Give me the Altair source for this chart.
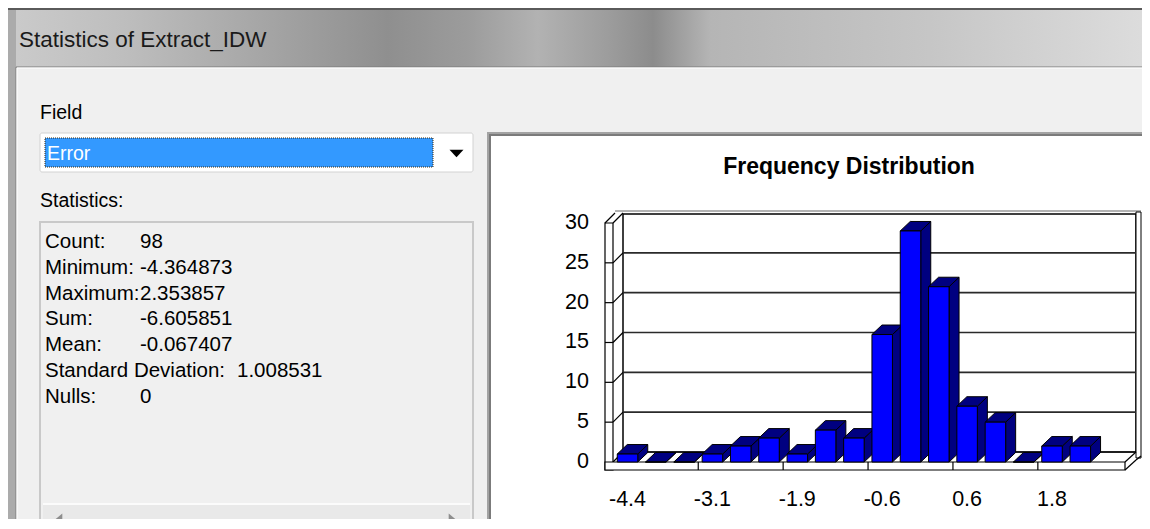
import altair as alt
import pandas as pd

# ---------------- data ----------------
bin_index = list(range(1, 18))
counts = [1, 0, 0, 1, 2, 3, 1, 4, 3, 16, 29, 22, 7, 5, 0, 2, 2]
x_tick_bins = [1, 4, 7, 10, 13, 16]
x_tick_labels = ["-4.4", "-3.1", "-1.9", "-0.6", "0.6", "1.8"]
y_ticks = [0, 5, 10, 15, 20, 25, 30]
stat_names = ["Count:", "Minimum:", "Maximum:", "Sum:", "Mean:",
              "Standard Deviation:", "Nulls:"]
stat_values = ["98", "-4.364873", "2.353857", "-6.605851", "-0.067407",
               "1.008531", "0"]
window_title = "Statistics of Extract_IDW"
field_label = "Field"
field_value = "Error"
stats_label = "Statistics:"
chart_title = "Frequency Distribution"

# ---------------- layout ----------------
OX, OY = 8, 8            # page margin
W, H = 1134, 511
FONT = "Liberation Sans, Arial, sans-serif"

SLOT = 28.3              # px per bin
BIN1_X = 627.5           # centre of bin 1 front face (page px)
PXU = 7.967              # px per count
BASE_Y = 462             # front baseline (page px)

xs = alt.Scale(domain=[0, 20],
               range=[BIN1_X - SLOT - OX, BIN1_X - SLOT + 20 * SLOT - OX],
               nice=False, zero=False)
ys = alt.Scale(domain=[0, 30],
               range=[BASE_Y - OY, BASE_Y - 30 * PXU - OY],
               nice=False, zero=False)

HALF = 10.25 / SLOT
DX = 10 / SLOT
DY = 9.5 / PXU

ONE = alt.Data(values=[{"a": 1}])


def box(x1, y1, x2, y2, **mk):
    return alt.Chart(ONE).mark_rect(**mk).encode(
        x=alt.value(x1 - OX), x2=alt.value(x2 - OX),
        y=alt.value(y1 - OY), y2=alt.value(y2 - OY))


def seg(x1, y1, x2, y2, color="black", w=1.0, **mk):
    return alt.Chart(ONE).mark_rule(color=color, strokeWidth=w, **mk).encode(
        x=alt.value(x1 - OX), x2=alt.value(x2 - OX),
        y=alt.value(y1 - OY), y2=alt.value(y2 - OY))


def label(txt, x, y, size, align="left", color="black", weight="normal"):
    return alt.Chart(ONE).mark_text(
        text=txt, align=align, baseline="middle", fontSize=size, font=FONT,
        color=color, fontWeight=weight).encode(
        x=alt.value(x - OX), y=alt.value(y - OY))


def glyph(path, x, y, size, color):
    return alt.Chart(ONE).mark_point(
        shape=path, filled=True, size=size, color=color, opacity=1,
        strokeWidth=0).encode(x=alt.value(x - OX), y=alt.value(y - OY))


layers = []

# ---------------- window chrome ----------------
title_grad = {
    "gradient": "linear", "x1": 0, "x2": 1, "y1": 0, "y2": 0,
    "stops": [
        {"offset": 0.0, "color": "#cbcbcb"},
        {"offset": 0.10, "color": "#bebebe"},
        {"offset": 0.20, "color": "#aaaaaa"},
        {"offset": 0.33, "color": "#8f8f8f"},
        {"offset": 0.40, "color": "#9c9c9c"},
        {"offset": 0.46, "color": "#b2b2b2"},
        {"offset": 0.52, "color": "#9d9d9d"},
        {"offset": 0.56, "color": "#8c8c8c"},
        {"offset": 0.61, "color": "#b5b5b5"},
        {"offset": 0.80, "color": "#c6c6c6"},
        {"offset": 1.0, "color": "#dedede"},
    ],
}
layers.append(box(8, 8, 1160, 68, fill=title_grad))
layers.append(box(8, 8, 1160, 10, fill="#5a5a5a"))
layers.append(box(8, 10, 16, 540, fill="#ababab"))
layers.append(box(16, 67, 1160, 540, fill="#f0f0f0"))
layers.append(seg(16, 67, 1160, 67, color="#7d7d7d"))
layers.append(seg(17, 68, 1160, 68, color="#ffffff"))
layers.append(seg(16, 67, 16, 540, color="#7d7d7d"))
layers.append(seg(17, 68, 17, 540, color="#ffffff"))
layers.append(label(window_title, 19, 40, 22.5, color="#1a1a1a"))

# Field combobox
layers.append(label(field_label, 40, 113, 19.5))
layers.append(box(40, 133, 473, 172, fill="#ffffff", stroke="#d2d2d2",
                  strokeWidth=1, cornerRadius=2))
layers.append(box(45, 138, 433, 167, fill="#3399ff", stroke="#3a2a10",
                  strokeWidth=1, strokeDash=[1, 1]))
layers.append(label(field_value, 47, 154, 19.5, color="#ffffff"))
layers.append(glyph("M-1,-0.55L1,-0.55L0,0.55Z", 456.5, 153.5, 196, "black"))

# Statistics list box
layers.append(label(stats_label, 40, 201, 19.5))
layers.append(box(40, 222, 473, 560, fill="#f0f0f0", stroke="#c9c9c9",
                  strokeWidth=2))
stats = pd.DataFrame({"name": stat_names, "value": stat_values})
ROW0, ROWH = 241.7, 25.9
stats["py"] = ROW0 - OY + ROWH * stats.index
stats["vx"] = [(237 if len(n) > 12 else 140) - OX for n in stat_names]
layers.append(alt.Chart(stats).mark_text(
    align="left", baseline="middle", fontSize=20.5, font=FONT, color="black"
).encode(x=alt.value(45 - OX), y=alt.Y("py:Q", scale=None), text="name:N"))
layers.append(alt.Chart(stats).mark_text(
    align="left", baseline="middle", fontSize=20.5, font=FONT, color="black"
).encode(x=alt.X("vx:Q", scale=None), y=alt.Y("py:Q", scale=None),
         text="value:N"))
layers.append(box(43, 504, 470, 540, fill="#e9e9e9"))
layers.append(seg(43, 504, 470, 504, color="#fbfbfb", w=2))
layers.append(glyph("M0.6,-1L-0.6,0L0.6,1Z", 59, 519, 120, "#8e8e8e"))
layers.append(glyph("M-0.6,-1L0.6,0L-0.6,1Z", 452, 519, 120, "#8e8e8e"))

# Chart panel (sunken)
layers.append(box(487, 132, 1170, 560, fill="#a3a3a3"))
layers.append(box(489, 134, 1170, 560, fill="#7b7b7b"))
layers.append(box(491, 136, 1170, 560, fill="#ffffff"))
layers.append(label(chart_title, 849, 167, 23, align="center",
                    weight="bold"))

# ---------------- 3-D frame ----------------
ticks = pd.DataFrame({"v": y_ticks})
layers.append(seg(615, 211, 1141, 211, color="#9a9a9a", w=1.5))
layers.append(box(623, 214, 1136, 452, fill="#ffffff", stroke="black",
                  strokeWidth=1.5))
layers.append(box(1136, 212, 1141, 458, fill="#ffffff", stroke="black",
                  strokeWidth=1))
# back grid lines
layers.append(alt.Chart(ticks).transform_filter(
    "datum.v > 0 && datum.v < 30").mark_rule(
    color="#2a2a2a", strokeWidth=1.6, yOffset=-10).encode(
    y=alt.Y("v:Q", scale=ys, axis=None),
    x=alt.value(623 - OX), x2=alt.value(1136 - OX)))
# left wall
layers.append(box(605, 223, 613, 470, fill="#ffffff", stroke="black",
                  strokeWidth=1.2))
layers.append(seg(605, 223, 615, 213, w=1.2))
layers.append(alt.Chart(ticks).mark_rule(
    color="black", strokeWidth=1.2, y2Offset=-10).encode(
    y=alt.Y("v:Q", scale=ys, axis=None), y2="v:Q",
    x=alt.value(613 - OX), x2=alt.value(623 - OX)))
layers.append(alt.Chart(ticks).transform_filter(
    "datum.v > 0 && datum.v < 30").mark_rule(
    color="black", strokeWidth=1.2).encode(
    y=alt.Y("v:Q", scale=ys, axis=None),
    x=alt.value(605 - OX), x2=alt.value(613 - OX)))
# floor
layers.append(seg(623, 452, 1136, 452, w=1.2))
layers.append(box(605, 462, 1125, 470, fill="#ffffff", stroke="black",
                  strokeWidth=1.2))
layers.append(seg(1125, 462, 1136, 452, w=1.2))
layers.append(seg(1125, 470, 1136, 460, w=1.2))
layers.append(seg(1136, 460, 1141, 456, w=1.2))
seps = pd.DataFrame({"s": [b - 0.5 for b in x_tick_bins[1:]]})
layers.append(alt.Chart(seps).mark_rule(color="black", strokeWidth=1.2).encode(
    x=alt.X("s:Q", scale=xs, axis=None),
    y=alt.value(462 - OY), y2=alt.value(470 - OY)))

# ---------------- bars ----------------
bars = pd.DataFrame({"bin": bin_index, "count": counts})
bars["xl"] = bars["bin"] - HALF
bars["xr"] = bars["bin"] + HALF
bars["zero"] = 0
top_rows, side_rows = [], []
for b, c in zip(bin_index, counts):
    top_rows += [{"bin": b, "y": c, "x": b - HALF, "x2": b + HALF},
                 {"bin": b, "y": c + DY, "x": b - HALF + DX,
                  "x2": b + HALF + DX}]
    side_rows += [{"bin": b, "x": b + HALF, "y": c, "y2": 0},
                  {"bin": b, "x": b + HALF + DX, "y": c + DY, "y2": DY}]

layers.append(alt.Chart(pd.DataFrame(side_rows)).mark_area(
    orient="vertical", fill="#000080", stroke="black", strokeWidth=1,
    opacity=1).encode(
    x=alt.X("x:Q", scale=xs, axis=None),
    y=alt.Y("y:Q", scale=ys, axis=None, stack=None),
    y2="y2:Q", detail="bin:N"))
layers.append(alt.Chart(pd.DataFrame(top_rows)).mark_area(
    orient="horizontal", fill="#000080", stroke="black", strokeWidth=1,
    opacity=1).encode(
    y=alt.Y("y:Q", scale=ys, axis=None),
    x=alt.X("x:Q", scale=xs, axis=None, stack=None),
    x2="x2:Q", detail="bin:N"))
layers.append(alt.Chart(bars).mark_rect(
    fill="#0000ff", stroke="black", strokeWidth=1).encode(
    x=alt.X("xl:Q", scale=xs, axis=None), x2="xr:Q",
    y=alt.Y("count:Q", scale=ys, axis=None), y2="zero:Q"))

# ---------------- axis labels ----------------
layers.append(alt.Chart(ticks).mark_text(
    align="right", baseline="middle", fontSize=21.5, font=FONT, color="black"
).encode(y=alt.Y("v:Q", scale=ys, axis=None), x=alt.value(589 - OX),
         text="v:Q"))
xt = pd.DataFrame({"bin": x_tick_bins, "lab": x_tick_labels})
layers.append(alt.Chart(xt).mark_text(
    align="center", baseline="middle", fontSize=21.5, font=FONT, color="black"
).encode(x=alt.X("bin:Q", scale=xs, axis=None), y=alt.value(500 - OY),
         text="lab:N"))

chart = alt.layer(*layers).resolve_scale(
    x="independent", y="independent"
).properties(
    width=W, height=H, padding=0, autosize="none", background="#ffffff"
).configure_view(stroke=None)

chart.save("out.html", embed_options={"renderer": "svg", "actions": False})
